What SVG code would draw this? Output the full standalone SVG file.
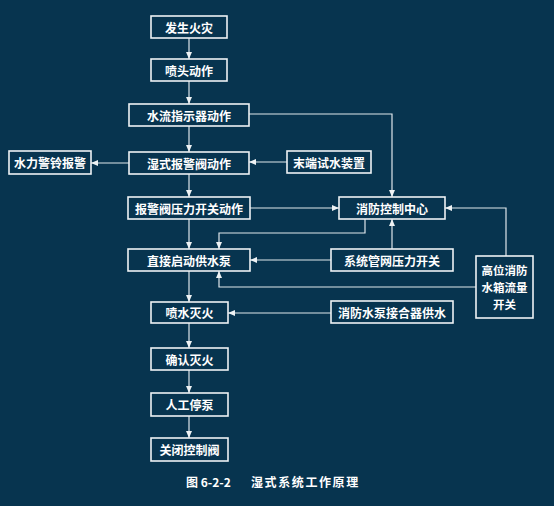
<svg xmlns="http://www.w3.org/2000/svg" width="554" height="506" viewBox="0 0 554 506">
<defs>
<style>
.bx{fill:none;stroke:#eef2f4;stroke-width:1.6}
.t{font-family:"Noto Sans CJK SC","Noto Sans CJK JP",sans-serif;font-size:12px;font-weight:bold;fill:#ffffff;text-anchor:middle;dominant-baseline:central}
.s{font-size:11.5px}
.c{fill:none;stroke:#dfe7ec;stroke-width:1.2}
.cap{font-family:"Noto Sans CJK SC",sans-serif;font-size:12px;font-weight:bold;fill:#ffffff}
</style>
<marker id="a" markerUnits="userSpaceOnUse" markerWidth="8" markerHeight="6" refX="7" refY="3" orient="auto">
<path d="M0,0 L7,3 L0,6 z" fill="#eef2f4"/>
</marker>
</defs>
<rect width="554" height="506" fill="#07344f"/>
<g id="connectors">
<path class="c" d="M189,38 V59" marker-end="url(#a)"/>
<path class="c" d="M189,81 V104" marker-end="url(#a)"/>
<path class="c" d="M189,126 V152" marker-end="url(#a)"/>
<path class="c" d="M189,174 V197" marker-end="url(#a)"/>
<path class="c" d="M189,219 V249" marker-end="url(#a)"/>
<path class="c" d="M189,271 V302" marker-end="url(#a)"/>
<path class="c" d="M189,323 V348" marker-end="url(#a)"/>
<path class="c" d="M189,370 V393" marker-end="url(#a)"/>
<path class="c" d="M189,416 V438" marker-end="url(#a)"/>
<path class="c" d="M129,163 H91" marker-end="url(#a)"/>
<path class="c" d="M287,162 H249" marker-end="url(#a)"/>
<path class="c" d="M249,114 H392 V197" marker-end="url(#a)"/>
<path class="c" d="M250,208 H339" marker-end="url(#a)"/>
<path class="c" d="M365,219 V233 H219 V249" marker-end="url(#a)"/>
<path class="c" d="M392,249 V219" marker-end="url(#a)"/>
<path class="c" d="M331,260 H250" marker-end="url(#a)"/>
<path class="c" d="M506,256 V208 H445" marker-end="url(#a)"/>
<path class="c" d="M476,287 H219 V271" marker-end="url(#a)"/>
<path class="c" d="M331,313 H228" marker-end="url(#a)"/>
</g>
<g id="n1"><rect class="bx" x="151" y="16" width="76" height="22"/><text class="t" x="189" y="27">发生火灾</text></g>
<g id="n2"><rect class="bx" x="151" y="59" width="76" height="22"/><text class="t" x="189" y="70">喷头动作</text></g>
<g id="n3"><rect class="bx" x="129" y="104" width="120" height="22"/><text class="t" x="189" y="115">水流指示器动作</text></g>
<g id="n4"><rect class="bx" x="129" y="152" width="120" height="22"/><text class="t" x="189" y="163">湿式报警阀动作</text></g>
<g id="n5"><rect class="bx" x="9" y="151" width="82" height="23"/><text class="t" x="50" y="162.5">水力警铃报警</text></g>
<g id="n6"><rect class="bx" x="287" y="151" width="84" height="22"/><text class="t" x="329" y="162">末端试水装置</text></g>
<g id="n7"><rect class="bx" x="128" y="197" width="122" height="22"/><text class="t" x="189" y="208">报警阀压力开关动作</text></g>
<g id="n8"><rect class="bx" x="339" y="197" width="106" height="22"/><text class="t" x="392" y="208">消防控制中心</text></g>
<g id="n9"><rect class="bx" x="128" y="249" width="122" height="22"/><text class="t" x="189" y="260">直接启动供水泵</text></g>
<g id="n10"><rect class="bx" x="331" y="249" width="122" height="22"/><text class="t" x="392" y="260">系统管网压力开关</text></g>
<g id="n11"><rect class="bx" x="476" y="256" width="57" height="62"/><text class="t s" x="504.5" y="270">高位消防</text><text class="t s" x="504.5" y="287">水箱流量</text><text class="t s" x="504.5" y="304">开关</text></g>
<g id="n12"><rect class="bx" x="151" y="302" width="77" height="21"/><text class="t" x="189.5" y="312.5">喷水灭火</text></g>
<g id="n13"><rect class="bx" x="331" y="301" width="122" height="22"/><text class="t" x="392" y="312">消防水泵接合器供水</text></g>
<g id="n14"><rect class="bx" x="151" y="348" width="77" height="22"/><text class="t" x="189.5" y="359">确认灭火</text></g>
<g id="n15"><rect class="bx" x="151" y="393" width="77" height="23"/><text class="t" x="189.5" y="404.5">人工停泵</text></g>
<g id="n16"><rect class="bx" x="151" y="438" width="77" height="23"/><text class="t" x="189.5" y="449.5">关闭控制阀</text></g>
<text class="cap" x="186" y="487">图 6-2-2</text>
<text class="cap" x="251" y="487" letter-spacing="1.6">湿式系统工作原理</text>
</svg>
